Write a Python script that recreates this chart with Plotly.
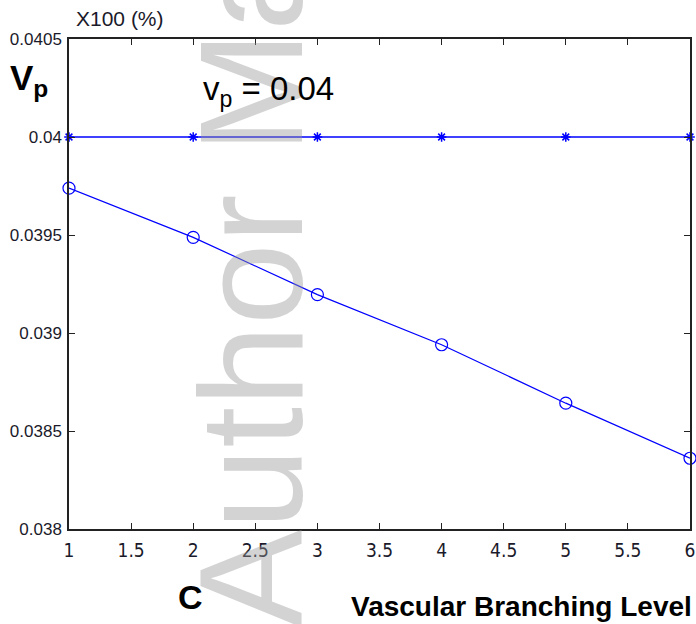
import plotly.graph_objects as go

# data
level = [1, 2, 3, 4, 5, 6]
vp_const = [0.04, 0.04, 0.04, 0.04, 0.04, 0.04]
vp_model = [0.039739, 0.039488, 0.039196, 0.038940, 0.038642, 0.038361]

x_ticks = [1, 1.5, 2, 2.5, 3, 3.5, 4, 4.5, 5, 5.5, 6]
x_tick_text = ['1', '1.5', '2', '2.5', '3', '3.5', '4', '4.5', '5', '5.5', '6']
y_ticks = [0.038, 0.0385, 0.039, 0.0395, 0.04, 0.0405]
y_tick_text = ['0.038', '0.0385', '0.039', '0.0395', '0.04', '0.0405']

W, H = 696, 624
L, R, T, B = 69, 6, 39, 95
PW, PH = W - L - R, H - T - B

def px(x):
    return (x - L) / PW

def py(y):
    return (H - B - y) / PH

BLUE = '#0000ff'
TXT = '#1a1a2a'

fig = go.Figure()

fig.add_trace(go.Scatter(
    x=level, y=vp_const, mode='lines+markers',
    line=dict(color=BLUE, width=1.5),
    marker=dict(symbol='asterisk-open', size=8, color=BLUE,
                line=dict(color=BLUE, width=1.5)),
    cliponaxis=False, showlegend=False
))

fig.add_trace(go.Scatter(
    x=level, y=vp_model, mode='lines+markers',
    line=dict(color=BLUE, width=1.2),
    marker=dict(symbol='circle-open', size=12, color=BLUE,
                line=dict(color=BLUE, width=1.2)),
    cliponaxis=False, showlegend=False
))

axis_common = dict(
    showgrid=False, zeroline=False, showline=True, linecolor='#222222',
    linewidth=1.5, mirror='ticks', ticks='inside', ticklen=6,
    tickcolor='#222222', tickwidth=1.2,
)

fig.update_xaxes(
    range=[1, 6], tickvals=x_ticks, ticktext=x_tick_text,
    tickfont=dict(family='Liberation Sans Narrow, DejaVu Sans Condensed, Arial Narrow, sans-serif',
                  size=19, color=TXT),
    ticklabelstandoff=3,
    **axis_common
)
fig.update_yaxes(
    range=[0.038, 0.0405], tickvals=y_ticks, ticktext=y_tick_text,
    tickfont=dict(family='Liberation Sans, Arial, sans-serif', size=17, color=TXT),
    ticklabelstandoff=2,
    **axis_common
)

annotations = [
    # watermark
    dict(text='Author Manuscript', xref='paper', yref='paper',
         x=px(250), y=py(630), xanchor='center', yanchor='bottom',
         textangle=-90, showarrow=False,
         font=dict(family='Liberation Sans, Arial, sans-serif', size=147,
                   color='rgba(150,150,150,0.42)')),
    dict(text='X100 (%)', xref='paper', yref='paper', x=px(74), y=py(19),
         xanchor='left', yanchor='middle', showarrow=False,
         font=dict(family='Liberation Sans, Arial, sans-serif', size=21, color=TXT)),
    dict(text='<b>V<sub>p</sub></b>', xref='paper', yref='paper', x=px(8), y=py(80),
         xanchor='left', yanchor='middle', showarrow=False,
         font=dict(family='Liberation Sans, Arial, sans-serif', size=35, color='#000000')),
    dict(text='v<sub>p</sub> = 0.04', xref='paper', yref='paper', x=px(201), y=py(91),
         xanchor='left', yanchor='middle', showarrow=False,
         font=dict(family='Liberation Sans, Arial, sans-serif', size=33, color='#000000')),
    dict(text='<b>C</b>', xref='paper', yref='paper', x=px(190), y=py(597),
         xanchor='center', yanchor='middle', showarrow=False,
         font=dict(family='Liberation Sans, Arial, sans-serif', size=34, color='#000000')),
    dict(text='<b>Vascular Branching Level</b>', xref='paper', yref='paper',
         x=px(694), y=py(606), xanchor='right', yanchor='middle', showarrow=False,
         font=dict(family='Liberation Sans Narrow, Liberation Sans, Arial, sans-serif',
                   size=28, color='#000000')),
]

fig.update_layout(
    width=W, height=H,
    margin=dict(l=L, r=R, t=T, b=B, autoexpand=False),
    paper_bgcolor='white', plot_bgcolor='white',
    annotations=annotations,
)

fig.write_html('out.html', config={'displayModeBar': False},
               post_script="document.body.style.margin='0';")
